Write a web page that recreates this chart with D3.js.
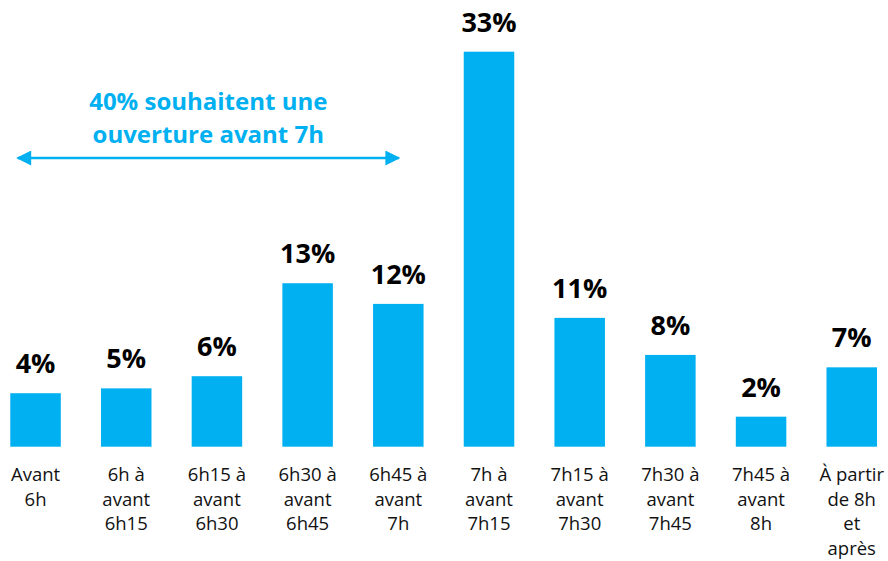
<!DOCTYPE html>
<html>
<head>
<meta charset="utf-8">
<script src="https://cdn.jsdelivr.net/npm/d3@7"></script>
<style>
  html, body { margin: 0; padding: 0; background: #fff; }
  svg { display: block; }
</style>
</head>
<body>
<svg id="chart" width="888" height="561"></svg>
<script>
const categories = [
  "Avant\n6h",
  "6h à\navant\n6h15",
  "6h15 à\navant\n6h30",
  "6h30 à\navant\n6h45",
  "6h45 à\navant\n7h",
  "7h à\navant\n7h15",
  "7h15 à\navant\n7h30",
  "7h30 à\navant\n7h45",
  "7h45 à\navant\n8h",
  "À partir\nde 8h\net\naprès"
];
const values = [4.4, 4.8, 5.8, 13.45, 11.75, 32.5, 10.6, 7.55, 2.47, 6.53];
const valueLabels = ["4%", "5%", "6%", "13%", "12%", "33%", "11%", "8%", "2%", "7%"];
const annotationLines = ["40% souhaitent une", "ouverture avant 7h"];
const annotationFrom = 0, annotationTo = 4;

const blue = "#00B0F0";
const svg = d3.select("#chart");

svg.append("rect").attr("width", 888).attr("height", 561).attr("fill", "#fff");

const x = d3.scaleBand()
  .domain(categories)
  .range([-9.8, 897.1])
  .paddingInner(0.443)
  .paddingOuter(0.2215);

const baseline = 446.7;
const y = d3.scaleLinear().domain([0, d3.max(values)]).range([baseline, 51.7]);

const data = categories.map((c, i) => ({ c, v: values[i], label: valueLabels[i] }));

svg.append("g").selectAll("rect")
  .data(data)
  .join("rect")
  .attr("x", d => x(d.c))
  .attr("y", d => y(d.v))
  .attr("width", x.bandwidth())
  .attr("height", d => y(0) - y(d.v))
  .attr("fill", blue);

svg.append("g").selectAll("text")
  .data(data)
  .join("text")
  .attr("x", d => x(d.c) + x.bandwidth() / 2)
  .attr("y", d => y(d.v) - 20)
  .attr("text-anchor", "middle")
  .attr("font-family", "'Open Sans', sans-serif")
  .attr("font-weight", 700)
  .attr("font-size", 27)
  .attr("fill", "#000")
  .text(d => d.label);

const catG = svg.append("g");
data.forEach(d => {
  const t = catG.append("text")
    .attr("text-anchor", "middle")
    .attr("font-family", "'Open Sans', sans-serif")
    .attr("font-size", 18.5)
    .attr("fill", "#111");
  d.c.split("\n").forEach((line, j) => {
    t.append("tspan")
      .attr("x", x(d.c) + x.bandwidth() / 2)
      .attr("y", baseline + 34.5 + j * 24.5)
      .text(line);
  });
});

// annotation arrow
const ax0 = x(categories[annotationFrom]) + 5.4;
const ax1 = x(categories[annotationTo]) + x.bandwidth() - 22.7;
const ay = 158;
const defs = svg.append("defs");
defs.append("marker")
  .attr("id", "ah")
  .attr("viewBox", "0 0 10 10")
  .attr("refX", 9).attr("refY", 5)
  .attr("markerWidth", 16 / 2.7).attr("markerHeight", 15 / 2.7)
  .attr("markerUnits", "strokeWidth")
  .attr("orient", "auto-start-reverse")
  .append("path")
  .attr("d", "M0,0 L10,5 L0,10 Z")
  .attr("fill", blue);

svg.append("line")
  .attr("x1", ax0 + 2).attr("x2", ax1 - 2)
  .attr("y1", ay).attr("y2", ay)
  .attr("stroke", blue)
  .attr("stroke-width", 2.7)
  .attr("marker-start", "url(#ah)")
  .attr("marker-end", "url(#ah)");

const annCx = (ax0 + ax1) / 2;
svg.append("g").selectAll("text")
  .data(annotationLines)
  .join("text")
  .attr("x", annCx)
  .attr("y", (d, i) => 110 + i * 33.3)
  .attr("text-anchor", "middle")
  .attr("font-family", "'Open Sans', sans-serif")
  .attr("font-weight", 700)
  .attr("font-size", 24)
  .attr("fill", blue)
  .text(d => d);
</script>
</body>
</html>
